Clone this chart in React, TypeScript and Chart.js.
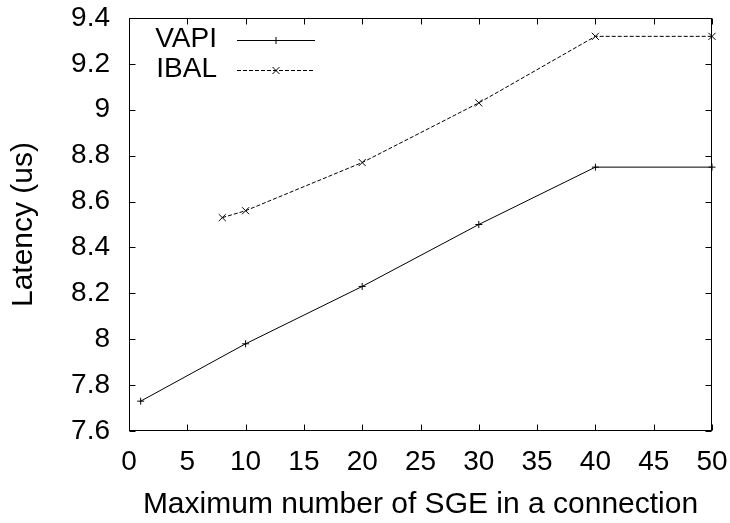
import React, { useEffect, useRef } from 'react';
import { Chart, registerables } from 'chart.js';

Chart.register(...registerables);

// Latency vs. maximum number of scatter/gather entries per connection
const vapiSge = [1, 10, 20, 30, 40, 50];
const vapiLatency = [7.73, 7.98, 8.23, 8.5, 8.75, 8.75];
const ibalSge = [8, 10, 20, 30, 40, 50];
const ibalLatency = [8.53, 8.56, 8.77, 9.03, 9.32, 9.32];

const xTickValues = [0, 5, 10, 15, 20, 25, 30, 35, 40, 45, 50];
const yTickValues = [7.6, 7.8, 8, 8.2, 8.4, 8.6, 8.8, 9, 9.2, 9.4];

const FONT = "'Liberation Sans', Arial, Helvetica, sans-serif";
const TICK_SIZE = 28;
const TITLE_SIZE = 30;
const TICK_LEN = 6;

function drawMarker(ctx: CanvasRenderingContext2D, style: string, x: number, y: number, r: number) {
  ctx.beginPath();
  if (style === 'crossRot') {
    const d = r * Math.SQRT1_2;
    ctx.moveTo(x - d, y - d);
    ctx.lineTo(x + d, y + d);
    ctx.moveTo(x - d, y + d);
    ctx.lineTo(x + d, y - d);
  } else {
    ctx.moveTo(x - r, y);
    ctx.lineTo(x + r, y);
    ctx.moveTo(x, y - r);
    ctx.lineTo(x, y + r);
  }
  ctx.stroke();
}

// Box around the plot with inward tick marks on all four sides
const framePlugin = {
  id: 'frame',
  beforeDatasetsDraw(chart: any) {
    const { ctx, chartArea } = chart;
    const { x, y } = chart.scales;
    const left = Math.round(chartArea.left) + 0.5;
    const right = Math.round(chartArea.right) - 0.5;
    const top = Math.round(chartArea.top) + 0.5;
    const bottom = Math.round(chartArea.bottom) - 0.5;
    ctx.save();
    ctx.strokeStyle = '#000';
    ctx.lineWidth = 1;
    ctx.strokeRect(left, top, right - left, bottom - top);
    ctx.beginPath();
    for (const v of xTickValues) {
      const px = Math.round(x.getPixelForValue(v)) + 0.5;
      ctx.moveTo(px, bottom);
      ctx.lineTo(px, bottom - TICK_LEN);
      ctx.moveTo(px, top);
      ctx.lineTo(px, top + TICK_LEN);
    }
    for (const v of yTickValues) {
      const py = Math.round(y.getPixelForValue(v)) + 0.5;
      ctx.moveTo(left, py);
      ctx.lineTo(left + TICK_LEN, py);
      ctx.moveTo(right, py);
      ctx.lineTo(right - TICK_LEN, py);
    }
    ctx.stroke();
    ctx.restore();
  },
};

// Key in the top-left corner: right-aligned label, line sample with its marker
const keyPlugin = {
  id: 'key',
  afterDatasetsDraw(chart: any) {
    const { ctx, chartArea } = chart;
    ctx.save();
    ctx.font = `${TICK_SIZE}px ${FONT}`;
    ctx.textAlign = 'right';
    ctx.textBaseline = 'middle';
    chart.data.datasets.forEach((ds: any, i: number) => {
      const yy = Math.round(chartArea.top + 22 + i * 30) + 0.5;
      const textRight = chartArea.left + 88;
      const x0 = chartArea.left + 108;
      const x1 = chartArea.left + 186;
      ctx.fillStyle = '#000';
      ctx.fillText(ds.label, textRight, yy - 1);
      ctx.strokeStyle = ds.borderColor;
      ctx.lineWidth = 1;
      ctx.setLineDash(ds.borderDash || []);
      ctx.beginPath();
      ctx.moveTo(x0, yy);
      ctx.lineTo(x1, yy);
      ctx.stroke();
      ctx.setLineDash([]);
      drawMarker(ctx, ds.pointStyle, (x0 + x1) / 2, yy, ds.pointRadius);
    });
    ctx.restore();
  },
};

const noScalePadding = (s: any) => {
  s.paddingTop = 0;
  s.paddingBottom = 0;
  s.paddingLeft = 0;
  s.paddingRight = 0;
};

export default function App() {
  const canvasRef = useRef<HTMLCanvasElement | null>(null);

  useEffect(() => {
    const canvas = canvasRef.current;
    if (!canvas) return;
    const tickFont = { family: FONT, size: TICK_SIZE };
    const titleFont = { family: FONT, size: TITLE_SIZE };
    const chart = new Chart(canvas, {
      type: 'line',
      data: {
        datasets: [
          {
            label: 'VAPI',
            data: vapiSge.map((v, i) => ({ x: v, y: vapiLatency[i] })),
            borderColor: '#000',
            backgroundColor: '#000',
            borderWidth: 1,
            pointStyle: 'cross',
            pointRadius: 3.5,
            pointBorderWidth: 1,
            pointBorderColor: '#000',
            fill: false,
            tension: 0,
            clip: false,
          },
          {
            label: 'IBAL',
            data: ibalSge.map((v, i) => ({ x: v, y: ibalLatency[i] })),
            borderColor: '#000',
            backgroundColor: '#000',
            borderWidth: 1,
            borderDash: [4, 2],
            pointStyle: 'crossRot',
            pointRadius: 5,
            pointBorderWidth: 1,
            pointBorderColor: '#000',
            fill: false,
            tension: 0,
            clip: false,
          },
        ],
      },
      options: {
        animation: false,
        responsive: false,
        events: [],
        layout: { padding: { top: 18, right: 18, left: 0, bottom: 0 } },
        plugins: {
          legend: { display: false },
          tooltip: { enabled: false },
        },
        scales: {
          x: {
            type: 'linear',
            min: 0,
            max: 50,
            afterBuildTicks: (s: any) => {
              s.ticks = xTickValues.map((v) => ({ value: v }));
            },
            afterFit: (s: any) => {
              s.height = 92;
              noScalePadding(s);
            },
            grid: { display: false, drawTicks: false },
            border: { display: false },
            ticks: {
              font: tickFont,
              color: '#000',
              padding: 14,
              maxRotation: 0,
              autoSkip: false,
              callback: (v: any) => String(v),
            },
            title: {
              display: true,
              text: 'Maximum number of SGE in a connection',
              font: titleFont,
              color: '#000',
              padding: { top: 0, bottom: 0 },
            },
          },
          y: {
            type: 'linear',
            min: 7.6,
            max: 9.4,
            afterBuildTicks: (s: any) => {
              s.ticks = yTickValues.map((v) => ({ value: v }));
            },
            afterFit: (s: any) => {
              s.width = 129;
              noScalePadding(s);
            },
            grid: { display: false, drawTicks: false },
            border: { display: false },
            ticks: {
              font: tickFont,
              color: '#000',
              padding: 19,
              autoSkip: false,
              callback: (v: any) => String(Number(Number(v).toFixed(1))),
            },
            title: {
              display: true,
              text: 'Latency (us)',
              font: titleFont,
              color: '#000',
              padding: { top: 6, bottom: 0 },
            },
          },
        },
      },
      plugins: [framePlugin, keyPlugin],
    });
    return () => chart.destroy();
  }, []);

  return (
    <div style={{ position: 'absolute', left: 0, top: 0, width: 730, height: 523, background: '#fff' }}>
      <canvas ref={canvasRef} width={730} height={523} />
    </div>
  );
}
